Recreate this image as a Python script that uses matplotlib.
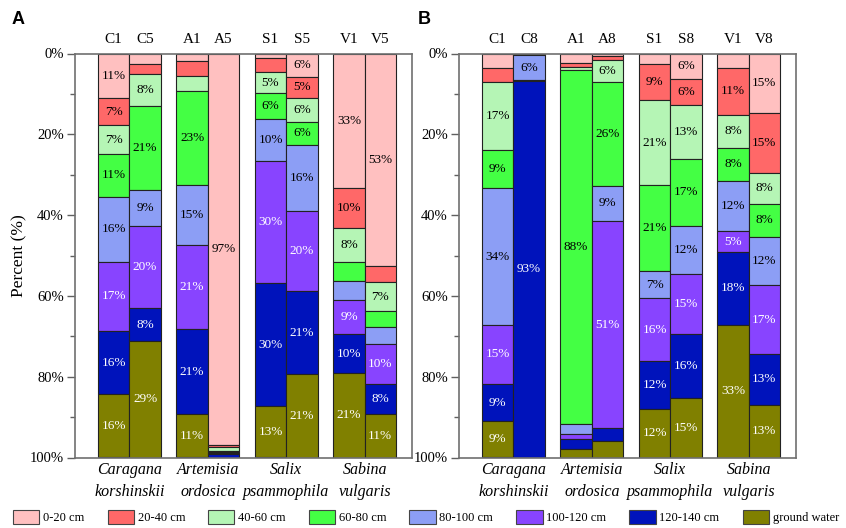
import matplotlib
matplotlib.use("Agg")
import matplotlib.pyplot as plt
from matplotlib.patches import Patch
from matplotlib.ticker import MultipleLocator, FuncFormatter

layers = ["0-20 cm", "20-40 cm", "40-60 cm", "60-80 cm", "80-100 cm",
          "100-120 cm", "120-140 cm", "ground water"]
colors = ["#FFC0C0", "#FF6868", "#B5F5B5", "#44FF44", "#8C9EF5",
          "#8844FF", "#0013BB", "#808000"]
text_colors = ["black"] * 5 + ["white"] * 3

species = ["Caragana\nkorshinskii", "Artemisia\nordosica",
           "Salix\npsammophila", "Sabina\nvulgaris"]

# Panel A
a_names = ["C1", "C5", "A1", "A5", "S1", "S5", "V1", "V5"]
a_C1 = [11.0, 6.8, 7.0, 10.6, 16.2, 17.0, 15.8, 15.6]
a_C5 = [2.5, 2.5, 7.9, 20.8, 8.9, 20.4, 8.2, 28.8]
a_A1 = [1.9, 3.7, 3.7, 23.3, 14.9, 20.8, 20.9, 10.8]
a_A5 = [96.9, 0.4, 1.1, 0.3, 0.2, 0.2, 0.9, 0.0]
a_S1 = [1.2, 3.4, 5.3, 6.4, 10.2, 30.4, 30.4, 12.7]
a_S5 = [5.8, 5.2, 5.9, 5.8, 16.3, 19.8, 20.6, 20.6]
a_V1 = [33.4, 9.9, 8.3, 4.7, 4.6, 8.6, 9.6, 20.9]
a_V5 = [52.7, 3.8, 7.3, 4.0, 4.0, 9.9, 7.6, 10.7]

# Panel B
b_names = ["C1", "C8", "A1", "A8", "S1", "S8", "V1", "V8"]
b_C1 = [3.5, 3.5, 17.0, 9.3, 33.9, 14.6, 9.2, 9.0]
b_C8 = [0.3, 0.0, 0.1, 0.0, 6.2, 0.2, 93.2, 0.0]
b_A1 = [2.3, 1.0, 0.7, 87.6, 2.5, 1.4, 2.3, 2.2]
b_A8 = [0.7, 0.8, 5.6, 25.6, 8.8, 51.2, 3.3, 4.0]
b_S1 = [2.6, 9.0, 21.0, 21.3, 6.6, 15.7, 11.9, 11.9]
b_S8 = [6.4, 6.4, 13.2, 16.6, 12.1, 14.7, 15.8, 14.8]
b_V1 = [3.7, 11.4, 8.2, 8.3, 12.4, 5.1, 18.1, 32.8]
b_V8 = [14.7, 14.8, 7.7, 8.2, 12.0, 16.9, 12.6, 13.1]

panel_a = [a_C1, a_C5, a_A1, a_A5, a_S1, a_S5, a_V1, a_V5]
panel_b = [b_C1, b_C8, b_A1, b_A8, b_S1, b_S8, b_V1, b_V8]

SERIF = ["Liberation Serif", "DejaVu Serif"]
W = 846 / 100
H = 528 / 100
fig = plt.figure(figsize=(W, H), dpi=100)

axA = fig.add_axes([75 / 846, (528 - 457.5) / 528, 337 / 846, 404 / 528])
axB = fig.add_axes([459 / 846, (528 - 457.5) / 528, 337 / 846, 404 / 528])

bw = 0.4


def draw(ax, bars, names):
    for i, vals in enumerate(bars):
        g = i // 2
        x = g - bw if i % 2 == 0 else g
        bottom = 0.0
        for k, v in enumerate(vals):
            if v > 0:
                ax.bar(x, v, width=bw, bottom=bottom, align="edge",
                       color=colors[k], edgecolor="#222222", linewidth=0.8)
                if v >= 5.0:
                    ax.text(x + bw / 2, bottom + v / 2, f"{v:.0f}%",
                            ha="center", va="center", fontsize=9.5,
                            color=text_colors[k], family=SERIF)
            bottom += v
        ax.text(x + bw / 2, -1.8, names[i], ha="center", va="bottom",
                fontsize=11, family=SERIF)
    ax.set_xlim(-0.4 - 0.294, 3.604)
    ax.set_ylim(100, 0)
    ax.set_xticks([])
    ax.yaxis.set_major_locator(MultipleLocator(20))
    ax.yaxis.set_minor_locator(MultipleLocator(10))
    ax.yaxis.set_major_formatter(FuncFormatter(lambda v, p: f"{v:.0f}%"))
    ax.tick_params(axis="y", which="major", length=6, width=1.0,
                   color="#606060", labelsize=10.5, pad=2)
    ax.tick_params(axis="y", which="minor", length=3.5, width=1.0,
                   color="#606060")
    for lab in ax.get_yticklabels():
        lab.set_family(SERIF)
    for s in ax.spines.values():
        s.set_color("#707070")
        s.set_linewidth(1.2)
    for g, sp in enumerate(species):
        ax.text(g, 101.2, sp, ha="center", va="top", fontsize=11.5,
                style="italic", family=SERIF, linespacing=1.5)


draw(axA, panel_a, a_names)
draw(axB, panel_b, b_names)

axA.set_ylabel("Percent (%)", fontsize=12.5, family=SERIF, labelpad=2)

fig.text(12 / 846, 1 - 20 / 528, "A", fontsize=13, fontweight="bold",
         family=["Liberation Sans", "DejaVu Sans"], va="center", ha="left")
fig.text(418 / 846, 1 - 20 / 528, "B", fontsize=13, fontweight="bold",
         family=["Liberation Sans", "DejaVu Sans"], va="center", ha="left")

handles = [Patch(facecolor=c, edgecolor="#444444", linewidth=0.8) for c in colors]
leg = fig.legend(handles, layers, loc="center", ncol=8,
                 bbox_to_anchor=(426 / 846, 11 / 528), frameon=False,
                 prop={"family": SERIF, "size": 9},
                 handlelength=2.1, handleheight=1.4, handletextpad=0.3,
                 columnspacing=1.85, borderpad=0.2, borderaxespad=0.0)

fig.savefig("out.png", dpi=100)
